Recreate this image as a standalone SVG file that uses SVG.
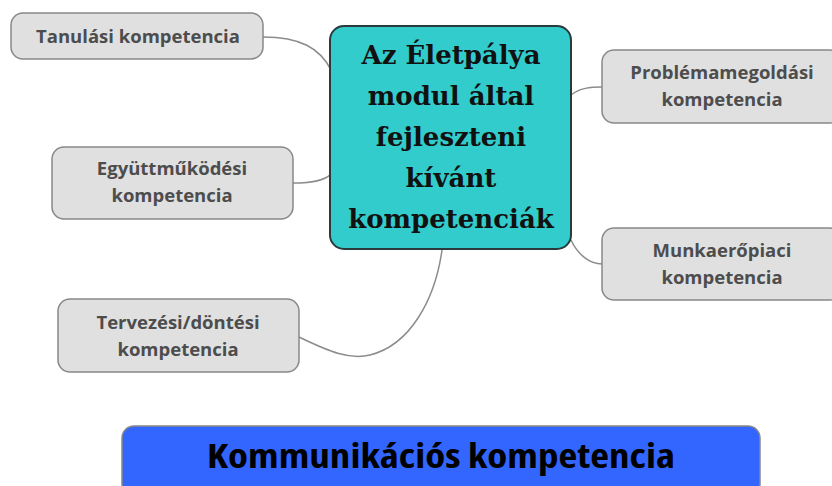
<svg xmlns="http://www.w3.org/2000/svg" width="832" height="486" viewBox="0 0 832 486">
<style>
.n rect{fill:#e0e0e0;stroke:#888;stroke-width:1.5}
.n text{font-family:"Open Sans","Noto Sans",sans-serif;font-weight:bold;font-size:18.5px;fill:#4d4d4d;text-anchor:middle}
.c path{fill:none;stroke:#8c8c8c;stroke-width:1.5}
.m text{font-family:"DejaVu Serif","Liberation Serif",serif;font-weight:bold;font-size:26px;fill:#111;text-anchor:middle}
</style>
<rect width="832" height="486" fill="#fff"/>
<g class="c" id="connectors">
<path d="M263,37 C300,37 320,48 331,70"/>
<path d="M293,183 C315,183 325,180 331,174"/>
<path d="M571,95 C580,88 590,87 602,87"/>
<path d="M571,240 C578,255 590,264 602,264"/>
<path d="M299,337 C330,352 350,360 370,355 C410,345 435,300 442,250"/>
</g>
<g id="center" class="m">
<rect x="330" y="26" width="241" height="223" rx="14" fill="#33cccc" stroke="#2b3a3a" stroke-width="2"/>
<text x="451" y="64">Az Életpálya</text>
<text x="451" y="105">modul által</text>
<text x="451" y="146">fejleszteni</text>
<text x="451" y="187">kívánt</text>
<text x="451" y="228">kompetenciák</text>
</g>
<g id="tanulasi" class="n">
<rect x="11" y="13" width="252" height="46" rx="12"/>
<text x="138" y="43">Tanulási kompetencia</text>
</g>
<g id="egyuttmukodesi" class="n">
<rect x="52" y="147" width="241" height="72" rx="12"/>
<text x="172" y="175">Együttműködési</text>
<text x="172" y="202">kompetencia</text>
</g>
<g id="problemamegoldasi" class="n">
<rect x="602" y="50" width="240" height="73" rx="12"/>
<text x="722" y="79">Problémamegoldási</text>
<text x="722" y="106">kompetencia</text>
</g>
<g id="munkaeropiaci" class="n">
<rect x="602" y="228" width="240" height="72" rx="12"/>
<text x="722" y="257">Munkaerőpiaci</text>
<text x="722" y="284">kompetencia</text>
</g>
<g id="tervezesi" class="n">
<rect x="58" y="299" width="241" height="73" rx="12"/>
<text x="178" y="329">Tervezési/döntési</text>
<text x="178" y="356">kompetencia</text>
</g>
<g id="kommunikacios">
<rect x="122" y="426" width="638" height="70" rx="12" fill="#3366ff" stroke="#888" stroke-width="1.5"/>
<text x="441" y="468" font-family="'Open Sans','Noto Sans',sans-serif" font-weight="bold" font-size="33" font-stretch="condensed" fill="#000" text-anchor="middle" textLength="468" lengthAdjust="spacingAndGlyphs">Kommunikációs kompetencia</text>
</g>
</svg>
